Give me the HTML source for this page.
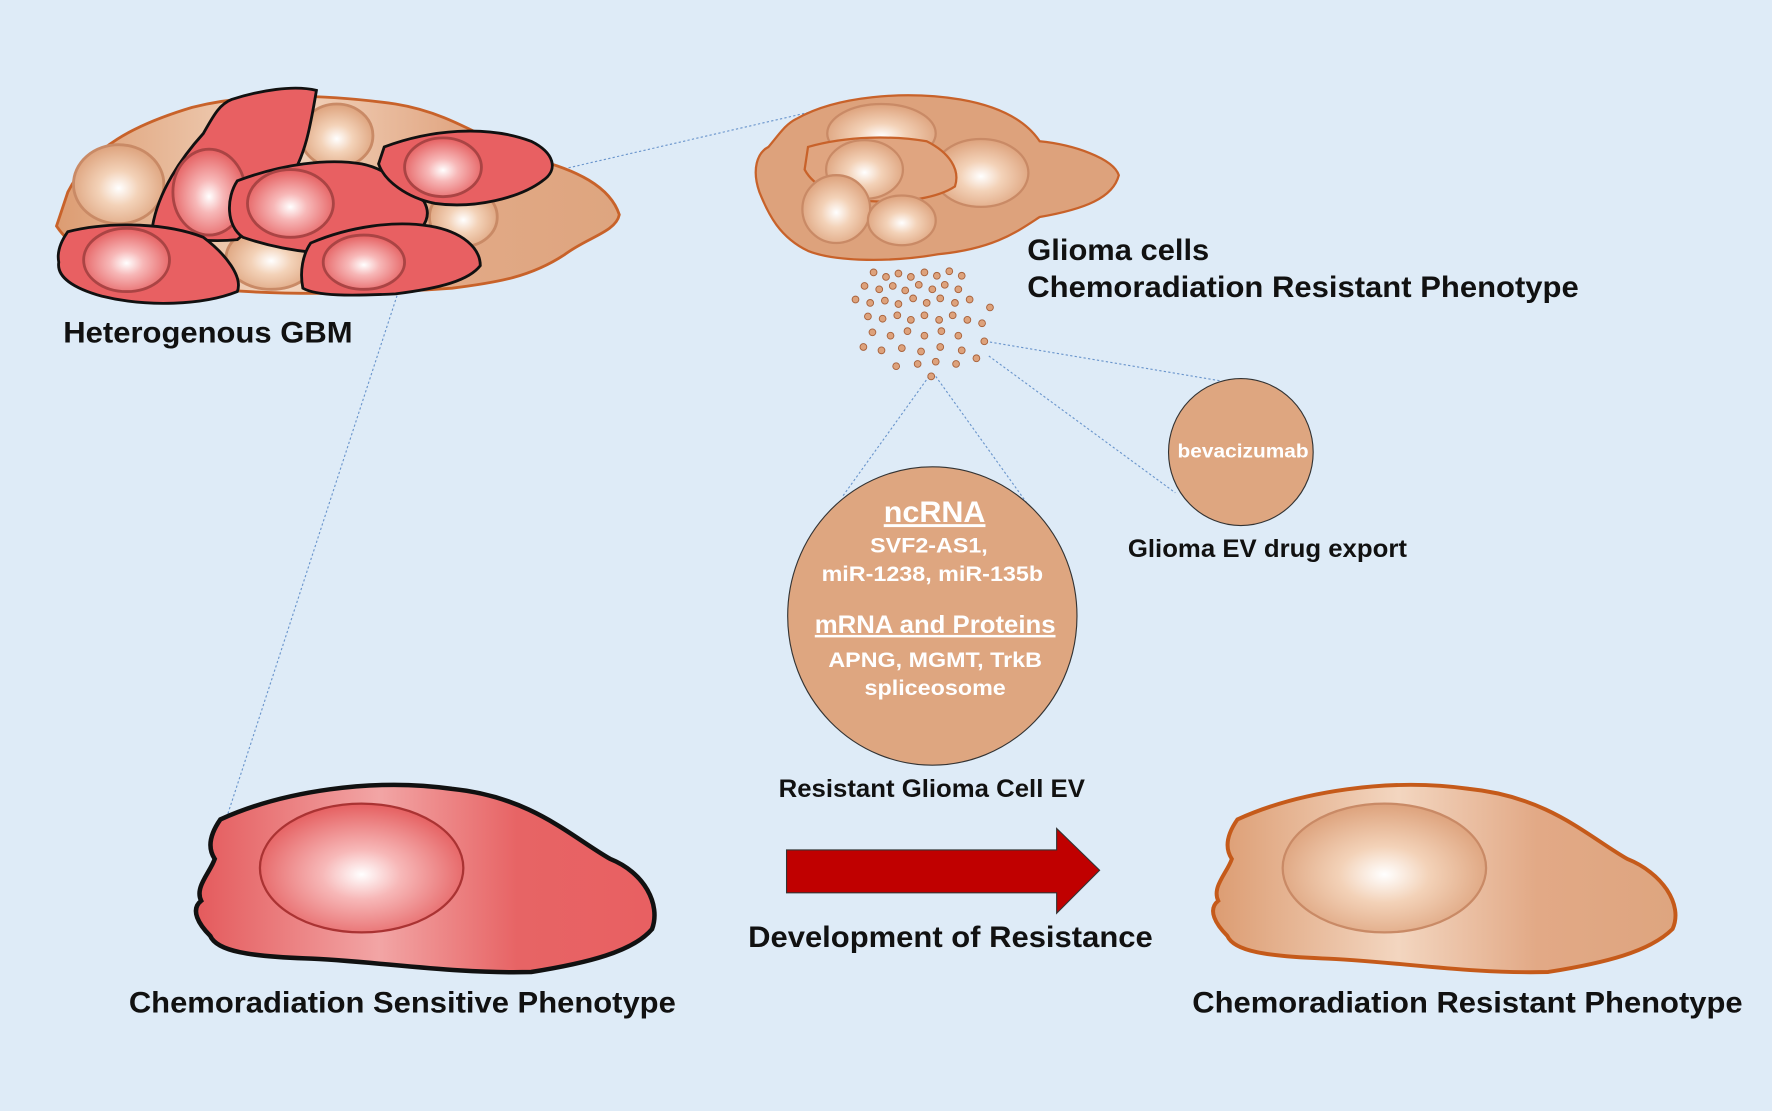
<!DOCTYPE html>
<html><head><meta charset="utf-8"><style>
html,body{margin:0;padding:0;background:#deebf7;}
svg{display:block}
text{font-family:"Liberation Sans",Arial,sans-serif;font-weight:bold}
</style></head><body>
<svg width="1772" height="1111" viewBox="0 0 1568 983" preserveAspectRatio="none" xmlns="http://www.w3.org/2000/svg">
<defs>
<radialGradient id="rn" cx="50%" cy="55%" r="55%"><stop offset="0" stop-color="#fff"/><stop offset="0.35" stop-color="#f7b8b8"/><stop offset="1" stop-color="#e55f60"/></radialGradient>
<radialGradient id="tn" cx="50%" cy="55%" r="55%"><stop offset="0" stop-color="#fff"/><stop offset="0.4" stop-color="#f3d2b8"/><stop offset="1" stop-color="#dda27c"/></radialGradient>
<linearGradient id="rb" x1="0" x2="1"><stop offset="0" stop-color="#e45a5c"/><stop offset="0.4" stop-color="#f2a5a5"/><stop offset="0.7" stop-color="#e76465"/><stop offset="1" stop-color="#e86062"/></linearGradient>
<linearGradient id="tb" x1="0" x2="1"><stop offset="0" stop-color="#dc9c72"/><stop offset="0.4" stop-color="#f3d6c0"/><stop offset="0.7" stop-color="#e2a986"/><stop offset="1" stop-color="#dea57f"/></linearGradient>
</defs>
<rect width="1568" height="983" fill="#deebf7"/>
<g stroke="#6a95cc" stroke-width="1" stroke-dasharray="2,2" fill="none">
<line x1="735" y1="95" x2="375" y2="178"/>
<line x1="360" y1="235" x2="200" y2="725"/>
<line x1="822" y1="333" x2="745" y2="440"/>
<line x1="828" y1="333" x2="910" y2="447"/>
<line x1="872" y1="302" x2="1080" y2="337"/>
<line x1="875" y1="315" x2="1040" y2="436"/>
</g>
<g stroke-width="2.5">
<path d="M60,170 C80,130 120,110 170,95 C230,80 300,85 350,92 C400,100 430,125 470,140 C510,150 540,165 548,190 C545,205 520,210 500,225 C470,245 440,250 400,255 C330,260 250,262 180,255 C120,250 70,230 50,200 Z" fill="url(#tb)" stroke="#c8622a"/>
<ellipse cx="105" cy="163" rx="40" ry="35" fill="url(#tn)" stroke="#c98a66"/>
<ellipse cx="298" cy="120" rx="32" ry="28" fill="url(#tn)" stroke="#c98a66"/>
<ellipse cx="240" cy="228" rx="40" ry="28" fill="url(#tn)" stroke="#c98a66"/>
<ellipse cx="410" cy="192" rx="30" ry="26" fill="url(#tn)" stroke="#c98a66"/>
<path d="M205,88 C230,80 260,75 280,80 C275,110 270,140 255,160 C240,180 225,200 210,212 C180,215 150,210 135,200 C140,170 160,140 180,118 C190,100 195,92 205,88 Z" fill="#e86062" stroke="#111"/>
<ellipse cx="185" cy="170" rx="32" ry="38" fill="url(#rn)" stroke="#a44"/>
<path d="M210,160 C250,145 290,140 320,145 C345,150 355,165 375,178 C385,195 370,210 345,220 C300,230 250,222 215,210 C200,200 200,175 210,160 Z" fill="#e86062" stroke="#111"/>
<ellipse cx="257" cy="180" rx="38" ry="30" fill="url(#rn)" stroke="#a44"/>
<path d="M340,130 C380,115 430,110 470,125 C490,135 495,150 480,160 C460,175 420,185 385,180 C360,175 340,160 335,145 Z" fill="#e86062" stroke="#111"/>
<ellipse cx="392" cy="148" rx="34" ry="26" fill="url(#rn)" stroke="#a44"/>
<path d="M60,205 C100,195 150,198 180,210 C200,225 215,245 210,258 C180,270 130,272 90,262 C65,255 50,245 52,232 C50,222 55,212 60,205 Z" fill="#e86062" stroke="#111"/>
<ellipse cx="112" cy="230" rx="38" ry="28" fill="url(#rn)" stroke="#a44"/>
<path d="M275,215 C310,200 350,195 380,200 C410,205 425,220 425,235 C415,248 390,255 350,260 C310,262 280,262 268,255 C265,240 268,225 275,215 Z" fill="#e86062" stroke="#111"/>
<ellipse cx="322" cy="232" rx="36" ry="24" fill="url(#rn)" stroke="#a44"/>
</g>
<g stroke="#c8622a" stroke-width="2">
<path d="M705,105 C740,85 800,80 850,88 C890,95 910,110 920,125 C950,128 985,140 990,155 C985,175 960,185 920,192 C900,205 880,220 830,225 C790,232 740,232 715,222 C690,210 680,190 672,170 C665,150 670,135 680,130 C690,118 695,110 705,105 Z" fill="#dda27c"/>
<ellipse cx="780" cy="118" rx="48" ry="26" fill="url(#tn)" stroke="#c98a66"/>
<ellipse cx="868" cy="153" rx="42" ry="30" fill="url(#tn)" stroke="#c98a66"/>
<path d="M715,130 C750,120 790,120 820,125 C840,135 850,150 845,165 C830,175 800,180 770,178 C740,175 720,165 712,150 Z" fill="#e0a580"/>
<ellipse cx="765" cy="150" rx="34" ry="26" fill="url(#tn)" stroke="#c98a66"/>
<ellipse cx="740" cy="185" rx="30" ry="30" fill="url(#tn)" stroke="#c98a66"/>
<ellipse cx="798" cy="195" rx="30" ry="22" fill="url(#tn)" stroke="#c98a66"/>
</g>
<g fill="#dda27c" stroke="#a8613a" stroke-width="0.8">
<circle cx="773" cy="241" r="3"/><circle cx="784" cy="245" r="3"/><circle cx="795" cy="242" r="3"/><circle cx="806" cy="245" r="3"/><circle cx="818" cy="241" r="3"/><circle cx="829" cy="244" r="3"/><circle cx="840" cy="240" r="3"/><circle cx="851" cy="244" r="3"/>
<circle cx="765" cy="253" r="3"/><circle cx="778" cy="256" r="3"/><circle cx="790" cy="253" r="3"/><circle cx="801" cy="257" r="3"/><circle cx="813" cy="252" r="3"/><circle cx="825" cy="256" r="3"/><circle cx="836" cy="252" r="3"/><circle cx="848" cy="256" r="3"/>
<circle cx="757" cy="265" r="3"/><circle cx="770" cy="268" r="3"/><circle cx="783" cy="266" r="3"/><circle cx="795" cy="269" r="3"/><circle cx="808" cy="264" r="3"/><circle cx="820" cy="268" r="3"/><circle cx="832" cy="264" r="3"/><circle cx="845" cy="268" r="3"/><circle cx="858" cy="265" r="3"/>
<circle cx="768" cy="280" r="3"/><circle cx="781" cy="282" r="3"/><circle cx="794" cy="279" r="3"/><circle cx="806" cy="283" r="3"/><circle cx="818" cy="279" r="3"/><circle cx="831" cy="283" r="3"/><circle cx="843" cy="279" r="3"/><circle cx="856" cy="283" r="3"/><circle cx="876" cy="272" r="3"/>
<circle cx="772" cy="294" r="3"/><circle cx="788" cy="297" r="3"/><circle cx="803" cy="293" r="3"/><circle cx="818" cy="297" r="3"/><circle cx="833" cy="293" r="3"/><circle cx="848" cy="297" r="3"/><circle cx="869" cy="286" r="3"/>
<circle cx="764" cy="307" r="3"/><circle cx="780" cy="310" r="3"/><circle cx="798" cy="308" r="3"/><circle cx="815" cy="311" r="3"/><circle cx="832" cy="307" r="3"/><circle cx="851" cy="310" r="3"/><circle cx="871" cy="302" r="3"/>
<circle cx="793" cy="324" r="3"/><circle cx="812" cy="322" r="3"/><circle cx="828" cy="320" r="3"/><circle cx="846" cy="322" r="3"/><circle cx="864" cy="317" r="3"/><circle cx="824" cy="333" r="3"/>
</g>
<ellipse cx="825" cy="545" rx="128" ry="132" fill="#dea680" stroke="#333" stroke-width="1"/>
<ellipse cx="1098" cy="400" rx="64" ry="65" fill="#dea680" stroke="#333" stroke-width="1"/>
<g fill="#fff" lengthAdjust="spacingAndGlyphs">
<text x="782" y="462" font-size="26" text-decoration="underline" textLength="90" lengthAdjust="spacingAndGlyphs">ncRNA</text>
<text x="770" y="489" font-size="19" textLength="104" lengthAdjust="spacingAndGlyphs">SVF2-AS1,</text>
<text x="727" y="514" font-size="19" textLength="196" lengthAdjust="spacingAndGlyphs">miR-1238, miR-135b</text>
<text x="721" y="560" font-size="22" text-decoration="underline" textLength="213" lengthAdjust="spacingAndGlyphs">mRNA and Proteins</text>
<text x="733" y="590" font-size="19" textLength="189" lengthAdjust="spacingAndGlyphs">APNG, MGMT, TrkB</text>
<text x="765" y="615" font-size="19" textLength="125" lengthAdjust="spacingAndGlyphs">spliceosome</text>
<text x="1042" y="405" font-size="17" textLength="116" lengthAdjust="spacingAndGlyphs">bevacizumab</text>
</g>
<path d="M195,725 C250,700 330,688 400,698 C470,705 505,740 540,760 C570,772 585,800 577,822 C560,842 520,852 470,860 C400,862 330,850 270,848 C222,846 192,842 186,828 C176,818 168,805 178,797 C172,785 186,772 190,760 C182,748 188,735 195,725 Z" fill="url(#rb)" stroke="#111" stroke-width="4"/>
<ellipse cx="320" cy="768" rx="90" ry="57" fill="url(#rn)" stroke="#a33" stroke-width="2"/>
<path d="M1095,725 C1150,700 1230,688 1300,698 C1370,705 1405,740 1440,760 C1470,772 1490,800 1480,822 C1460,842 1420,852 1370,860 C1300,862 1230,850 1170,848 C1122,846 1092,842 1086,828 C1076,818 1068,805 1078,797 C1072,785 1086,772 1090,760 C1082,748 1088,735 1095,725 Z" fill="url(#tb)" stroke="#c55a1a" stroke-width="3.5"/>
<ellipse cx="1225" cy="768" rx="90" ry="57" fill="url(#tn)" stroke="#c98a66" stroke-width="2"/>
<path d="M696,752 H935 V733 L973,770 L935,808 V790 H696 Z" fill="#c00000" stroke="#333" stroke-width="1"/>
<g fill="#111">
<text x="56" y="303" font-size="26" textLength="256" lengthAdjust="spacingAndGlyphs">Heterogenous GBM</text>
<text x="909" y="230" font-size="26" textLength="161" lengthAdjust="spacingAndGlyphs">Glioma cells</text>
<text x="909" y="263" font-size="26" textLength="488" lengthAdjust="spacingAndGlyphs">Chemoradiation Resistant Phenotype</text>
<text x="998" y="493" font-size="22" textLength="247" lengthAdjust="spacingAndGlyphs">Glioma EV drug export</text>
<text x="689" y="705" font-size="22" textLength="271" lengthAdjust="spacingAndGlyphs">Resistant Glioma Cell EV</text>
<text x="662" y="838" font-size="26" textLength="358" lengthAdjust="spacingAndGlyphs">Development of Resistance</text>
<text x="114" y="896" font-size="26" textLength="484" lengthAdjust="spacingAndGlyphs">Chemoradiation Sensitive Phenotype</text>
<text x="1055" y="896" font-size="26" textLength="487" lengthAdjust="spacingAndGlyphs">Chemoradiation Resistant Phenotype</text>
</g>
</svg>
</body></html>
